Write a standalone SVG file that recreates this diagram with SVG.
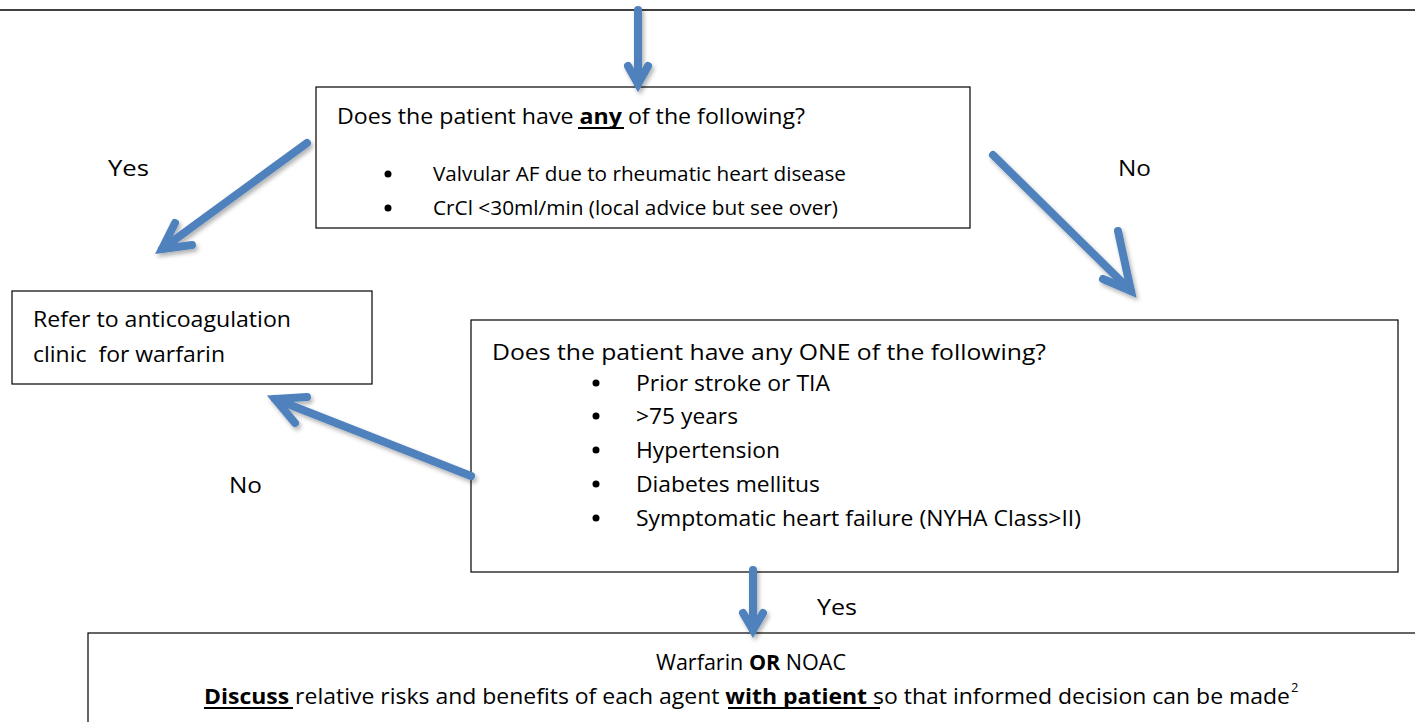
<svg xmlns="http://www.w3.org/2000/svg" width="1415" height="722" viewBox="0 0 1415 722">
<style>
text{font-family:"Open Sans","Liberation Sans",sans-serif;fill:#000;white-space:pre}
.box{fill:#fff;stroke:#000;stroke-width:1.2}
.t{font-size:21px}
.s{font-size:20px}
.lbl{font-size:22px}
.conn{fill:none;stroke:#4F81BD;stroke-width:8;stroke-linecap:round;stroke-linejoin:miter}
.ul{stroke:#000;stroke-width:1.8}
</style>
<defs>
<filter id="sh" x="-20%" y="-20%" width="140%" height="140%">
<feDropShadow dx="2" dy="3" stdDeviation="2" flood-color="#000" flood-opacity="0.3"/>
</filter>
</defs>
<rect width="1415" height="722" fill="#fff"/>
<line x1="0" y1="10" x2="1415" y2="10" stroke="#000" stroke-width="1.5"/>

<g id="node-q1">
<rect class="box" x="316" y="87" width="654" height="141"/>
<text class="t" x="337" y="124" textLength="468" lengthAdjust="spacingAndGlyphs">Does the patient have <tspan font-weight="bold">any </tspan>of the following?</text>
<line class="ul" x1="578" y1="128" x2="624" y2="128"/>
<circle cx="388" cy="174" r="3.5"/>
<text class="s" x="433" y="181" textLength="413" lengthAdjust="spacingAndGlyphs">Valvular AF due to rheumatic heart disease</text>
<circle cx="388" cy="208" r="3.5"/>
<text class="s" x="433" y="215" textLength="405" lengthAdjust="spacingAndGlyphs">CrCl &lt;30ml/min (local advice but see over)</text>
</g>

<g id="node-refer">
<rect class="box" x="12" y="291" width="360" height="93"/>
<text class="t" x="33" y="327" textLength="258" lengthAdjust="spacingAndGlyphs">Refer to anticoagulation</text>
<text class="t" x="33" y="362" textLength="192" lengthAdjust="spacingAndGlyphs">clinic  for warfarin</text>
</g>

<g id="node-q2">
<rect class="box" x="471" y="320" width="927" height="252"/>
<text class="t" x="492" y="360" textLength="554" lengthAdjust="spacingAndGlyphs">Does the patient have any ONE of the following?</text>
<circle cx="596" cy="383" r="3.5"/>
<text class="t" x="636" y="391" textLength="194" lengthAdjust="spacingAndGlyphs">Prior stroke or TIA</text>
<circle cx="596" cy="416" r="3.5"/>
<text class="t" x="636" y="424" textLength="102" lengthAdjust="spacingAndGlyphs">&gt;75 years</text>
<circle cx="596" cy="450" r="3.5"/>
<text class="t" x="636" y="458" textLength="144" lengthAdjust="spacingAndGlyphs">Hypertension</text>
<circle cx="596" cy="484" r="3.5"/>
<text class="t" x="636" y="492" textLength="184" lengthAdjust="spacingAndGlyphs">Diabetes mellitus</text>
<circle cx="596" cy="518" r="3.5"/>
<text class="t" x="636" y="526" textLength="445" lengthAdjust="spacingAndGlyphs">Symptomatic heart failure (NYHA Class&gt;II)</text>
</g>

<g id="node-result">
<rect class="box" x="88" y="633" width="1400" height="200"/>
<text class="t" x="656" y="670" textLength="190" lengthAdjust="spacingAndGlyphs">Warfarin <tspan font-weight="bold">OR</tspan> NOAC</text>
<text class="t" x="204" y="704" textLength="1086" lengthAdjust="spacingAndGlyphs"><tspan font-weight="bold">Discuss </tspan>relative risks and benefits of each agent <tspan font-weight="bold">with patient </tspan>so that informed decision can be made</text>
<text x="1291" y="692" font-size="13">2</text>
<line class="ul" x1="204" y1="708" x2="293" y2="708"/>
<line class="ul" x1="728" y1="708" x2="880" y2="708"/>
</g>

<g id="labels">
<text class="lbl" x="108" y="176" textLength="41" lengthAdjust="spacingAndGlyphs">Yes</text>
<text class="lbl" x="1118" y="176" textLength="33" lengthAdjust="spacingAndGlyphs">No</text>
<text class="lbl" x="229" y="493" textLength="33" lengthAdjust="spacingAndGlyphs">No</text>
<text class="lbl" x="817" y="615" textLength="40" lengthAdjust="spacingAndGlyphs">Yes</text>
</g>

<g id="connectors" filter="url(#sh)">
<path class="conn" d="M638 10 L638 84"/>
<path class="conn" d="M628 66 L638 84 L648 66"/>
<path class="conn" d="M307 143 L162 249"/>
<path class="conn" d="M175 223 L162 249 L192 245"/>
<path class="conn" d="M993 155 L1131 291"/>
<path class="conn" d="M1118 231 L1131 291 L1103 279"/>
<path class="conn" d="M471 476 L275 399"/>
<path class="conn" d="M307 397 L275 399 L295 423"/>
<path class="conn" d="M753 570 L753 630"/>
<path class="conn" d="M743 613 L753 630 L763 613"/>
</g>
</svg>
